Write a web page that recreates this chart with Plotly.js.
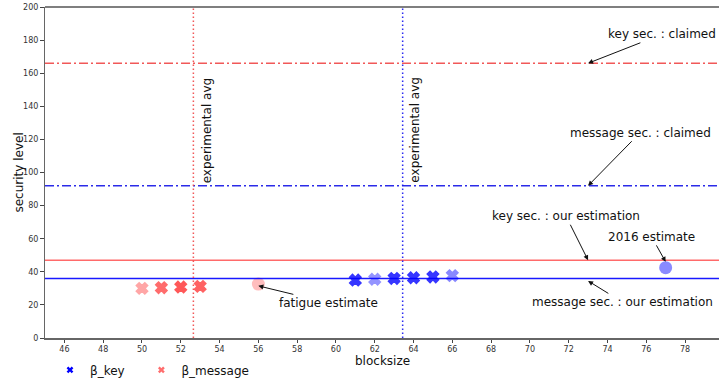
<!DOCTYPE html>
<html>
<head>
<meta charset="utf-8">
<script src="https://cdn.plot.ly/plotly-3.0.1.min.js"></script>
<style>html,body{margin:0;padding:0;background:#fff;}#chart{width:719px;height:379px;}</style>
</head>
<body>
<div id="chart"></div>
<script>
// ---- data ----
const msgBlocksize = [50, 51, 52, 53];
const msgSecurity = [30.0, 30.4, 30.8, 31.2];
const keyBlocksize = [61, 62, 63, 64, 65, 66];
const keySecurity = [35.0, 35.5, 36.0, 36.4, 36.9, 37.7];
const fatigueX = [56];
const fatigueY = [32.6];
const est2016X = [77];
const est2016Y = [42.5];
const keyClaimed = 166;
const msgClaimed = 92;
const keyOurEst = 47;
const msgOurEst = 36;
const msgExpAvg = 52.65;
const keyExpAvg = 63.44;
const yTicks = [0, 20, 40, 60, 80, 100, 120, 140, 160, 180, 200];
const xTicks = [46, 48, 50, 52, 54, 56, 58, 60, 62, 64, 66, 68, 70, 72, 74, 76, 78];

// ---- styles ----
const msgAlpha = [0.45, 0.75, 0.85, 0.8];
const keyAlpha = [0.85, 0.45, 0.85, 0.85, 0.85, 0.5];
const redC = 'rgb(255,60,60)';
const blueC = 'rgb(20,20,255)';

const traces = [
  {x: msgBlocksize, y: msgSecurity, mode: 'markers', type: 'scatter', showlegend: false,
   marker: {symbol: 'x', size: 10, color: redC, opacity: msgAlpha, line: {width: 1.5, color: redC}}},
  {x: keyBlocksize, y: keySecurity, mode: 'markers', type: 'scatter', showlegend: false,
   marker: {symbol: 'x', size: 10, color: blueC, opacity: keyAlpha, line: {width: 1.5, color: blueC}}},
  {x: fatigueX, y: fatigueY, mode: 'markers', type: 'scatter', showlegend: false,
   marker: {symbol: 'circle', size: 13, color: 'rgba(255,90,90,0.4)', line: {width: 0}}},
  {x: est2016X, y: est2016Y, mode: 'markers', type: 'scatter', showlegend: false,
   marker: {symbol: 'circle', size: 13, color: 'rgba(60,60,255,0.6)', line: {width: 0}}},
  {x: [null], y: [null], mode: 'markers', type: 'scatter', name: 'β_key', legend: 'legend',
   marker: {symbol: 'x', size: 6, color: '#0000ff'}},
  {x: [null], y: [null], mode: 'markers', type: 'scatter', name: 'β_message', legend: 'legend2',
   marker: {symbol: 'x', size: 6, color: 'rgba(255,60,60,0.75)'}}
];

const hline = (y, color, dash) => ({type: 'line', xref: 'paper', x0: 0, x1: 1, yref: 'y', y0: y, y1: y,
  line: {color: color, width: 1.5, dash: dash}});
const vline = (x, color) => ({type: 'line', yref: 'paper', y0: 0, y1: 1, xref: 'x', x0: x, x1: x,
  line: {color: color, width: 1.5, dash: '1.5px,2.5px'}});

const shapes = [
  hline(keyClaimed, 'rgba(240,70,70,0.9)', '9px,3px,2px,3px'),
  hline(msgClaimed, 'rgba(20,20,230,0.9)', '9px,3px,2px,3px'),
  hline(keyOurEst, 'rgba(255,80,80,0.85)', 'solid'),
  hline(msgOurEst, 'rgba(0,0,255,0.9)', 'solid'),
  vline(msgExpAvg, 'rgba(240,70,70,0.9)'),
  vline(keyExpAvg, 'rgba(20,20,240,0.9)'),
  {type: 'line', xref: 'paper', yref: 'paper', x0: 0, x1: 1, y0: 1, y1: 1, line: {color: '#000', width: 1.2}}
];

const annFont = {family: 'DejaVu Sans', size: 12, color: '#111'};
const arrow = (text, x, y, ax, ay) => ({text: text, x: x, y: y, xref: 'x', yref: 'y', ax: ax, ay: ay,
  showarrow: true, arrowhead: 2, arrowsize: 1, arrowwidth: 1, arrowcolor: '#111', standoff: 0, font: annFont});

const annotations = [
  arrow('key sec. : claimed', 73, keyClaimed, 74, -29),
  arrow('message sec. : claimed', 73, msgClaimed, 52, -53),
  arrow('key sec. : our estimation', 73, keyOurEst, -22, -44),
  arrow('message sec. : our estimation', 73, 34.5, 34, 21),
  arrow('2016 estimate', 77, 46, -14, -25),
  arrow('fatigue estimate', 56, 31.5, 70, 17),
  {text: 'experimental avg', x: msgExpAvg, y: 125.7, xref: 'x', yref: 'y', showarrow: false,
   textangle: -90, xshift: 14, font: annFont},
  {text: 'experimental avg', x: keyExpAvg, y: 125.7, xref: 'x', yref: 'y', showarrow: false,
   textangle: -90, xshift: 12, font: annFont},
  // axis titles
  {text: 'blocksize', xref: 'paper', yref: 'paper', x: 0.5, y: -0.068, showarrow: false,
   xanchor: 'center', yanchor: 'middle', font: {family: 'DejaVu Sans', size: 12, color: '#111'}},
  {text: 'security level', xref: 'paper', yref: 'paper', x: -0.040, y: 0.5, showarrow: false, textangle: -90,
   xanchor: 'center', yanchor: 'middle', font: {family: 'DejaVu Sans', size: 12, color: '#111'}}
];

const legendBase = {orientation: 'h', xanchor: 'left', xref: 'paper', y: 0.024, yref: 'container', yanchor: 'middle',
  font: {size: 12, color: '#111'}, bgcolor: 'rgba(0,0,0,0)', itemwidth: 30};

const layout = {
  width: 719, height: 379,
  margin: {l: 45, r: 0, t: 7, b: 41},
  paper_bgcolor: '#fff', plot_bgcolor: '#fff',
  font: {family: 'DejaVu Sans', color: '#222'},
  xaxis: {range: [45, 79.75], tickvals: xTicks, ticks: 'outside', ticklen: 3, tickwidth: 1, tickcolor: '#444',
    showgrid: false, zeroline: false, showline: true, linecolor: '#666', linewidth: 1.5, automargin: false,
    tickfont: {size: 8, color: '#333'}},
  yaxis: {range: [0, 200], tickvals: yTicks, ticks: 'outside', ticklen: 3.5, tickwidth: 1, tickcolor: '#444',
    showgrid: false, zeroline: false, showline: true, linecolor: '#666', linewidth: 1.5, automargin: false,
    tickfont: {size: 8, color: '#333'}},
  showlegend: true,
  legend: Object.assign({}, legendBase, {x: 0.0074}),
  legend2: Object.assign({}, legendBase, {x: 0.143}),
  shapes: shapes,
  annotations: annotations
};

Plotly.newPlot('chart', traces, layout, {displayModeBar: false, staticPlot: true});
</script>
</body>
</html>
